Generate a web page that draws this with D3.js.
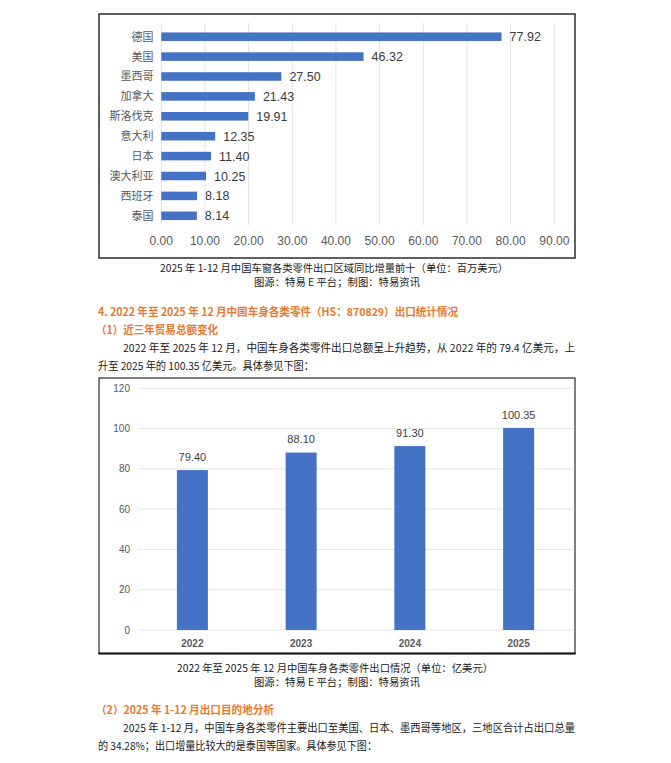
<!DOCTYPE html>
<html>
<head>
<meta charset="utf-8">
<script src="https://cdn.jsdelivr.net/npm/d3@7"></script>
<style>
  html, body { margin: 0; padding: 0; background: #fff; }
  svg { display: block; }
  text { font-family: "Liberation Sans", "Noto Sans CJK SC", sans-serif; }
  .cjk { font-family: "Noto Sans CJK SC", "Liberation Sans", sans-serif; }
</style>
</head>
<body>
<svg id="page" width="671" height="763"></svg>
<script>
// top chart: 2025 increments by destination (million USD)
var countries = ['德国', '美国', '墨西哥', '加拿大', '斯洛伐克', '意大利', '日本', '澳大利亚', '西班牙', '泰国'];
var increments = [77.92, 46.32, 27.50, 21.43, 19.91, 12.35, 11.40, 10.25, 8.18, 8.14];
var incrementTicks = [0, 10, 20, 30, 40, 50, 60, 70, 80, 90];

// bottom chart: yearly export totals (100M USD)
var years = ['2022', '2023', '2024', '2025'];
var totals = [79.40, 88.10, 91.30, 100.35];
var totalTicks = [0, 20, 40, 60, 80, 100, 120];

// page text, [text, x, y, width, style]
var textLines = [
  ['2025 年 1-12 月中国车窗各类零件出口区域同比增量前十（单位：百万美元）', 160, 268, 348, 'caption'],
  ['图源：特易 E 平台；制图：特易资讯', 254, 282, 166, 'caption'],
  ['4. 2022 年至 2025 年 12 月中国车身各类零件（HS：870829）出口统计情况', 98, 312, 360, 'heading'],
  ['（1）近三年贸易总额变化', 96, 330, 122, 'heading'],
  ['2022 年至 2025 年 12 月，中国车身各类零件出口总额呈上升趋势，从 2022 年的 79.4 亿美元，上', 123, 348, 452, 'body'],
  ['升至 2025 年的 100.35 亿美元。具体参见下图：', 98, 366, 216, 'body'],
  ['2022 年至 2025 年 12 月中国车身各类零件出口情况（单位：亿美元）', 177, 668, 316, 'caption'],
  ['图源：特易 E 平台；制图：特易资讯', 254, 682, 166, 'caption'],
  ['（2）2025 年 1-12 月出口目的地分析', 96, 710, 178, 'heading'],
  ['2025 年 1-12 月，中国车身各类零件主要出口至美国、日本、墨西哥等地区，三地区合计占出口总量', 123, 728, 452, 'body'],
  ['的 34.28%；出口增量比较大的是泰国等国家。具体参见下图：', 98, 746, 279, 'body']
];

var barColor = '#4472C4';
var svg = d3.select('#page');

svg.append('rect').attr('width', 671).attr('height', 763).attr('fill', '#fff');

function renderIncrements() {
  var root = svg.append('g').attr('class', 'increments');

  root.append('rect')
    .attr('x', 99).attr('y', 14)
    .attr('width', 476).attr('height', 244)
    .attr('fill', '#fff')
    .attr('stroke', '#2b2b2b')
    .attr('stroke-width', 1.5);

  var x = d3.scaleLinear().domain([0, 90]).range([161.3, 554.3]);
  var y = d3.scaleBand()
    .domain(countries)
    .range([26.75, 225.75])
    .paddingInner(0.57)
    .paddingOuter(0.285);

  root.selectAll('.grid')
    .data(incrementTicks)
    .enter()
    .append('line')
    .attr('class', 'grid')
    .attr('x1', x).attr('x2', x)
    .attr('y1', 23).attr('y2', 225)
    .attr('stroke', '#e3e3e3')
    .attr('stroke-width', 1);

  root.selectAll('.tick-label')
    .data(incrementTicks)
    .enter()
    .append('text')
    .attr('class', 'tick-label')
    .attr('x', x)
    .attr('y', 241)
    .attr('dy', '0.35em')
    .attr('text-anchor', 'middle')
    .attr('font-size', 12)
    .attr('fill', '#595959')
    .text(function(d) { return d3.format('.2f')(d); });

  root.selectAll('.bar')
    .data(increments)
    .enter()
    .append('rect')
    .attr('class', 'bar')
    .attr('x', x(0))
    .attr('y', function(d, i) { return y(countries[i]); })
    .attr('width', function(d) { return x(d) - x(0); })
    .attr('height', y.bandwidth())
    .attr('fill', barColor);

  root.selectAll('.cat-label')
    .data(countries)
    .enter()
    .append('text')
    .attr('class', 'cat-label cjk')
    .attr('x', 153.5)
    .attr('y', function(d) { return y(d) + y.bandwidth() / 2; })
    .attr('dy', '0.36em')
    .attr('text-anchor', 'end')
    .attr('font-size', 11)
    .attr('fill', '#595959')
    .text(function(d) { return d; });

  root.selectAll('.value-label')
    .data(increments)
    .enter()
    .append('text')
    .attr('class', 'value-label')
    .attr('x', function(d) { return x(d) + 8; })
    .attr('y', function(d, i) { return y(countries[i]) + y.bandwidth() / 2; })
    .attr('dy', '0.36em')
    .attr('font-size', 12.5)
    .attr('fill', '#3a3a3a')
    .text(function(d) { return d3.format('.2f')(d); });
}

function renderTotals() {
  var root = svg.append('g').attr('class', 'totals');

  root.append('rect')
    .attr('x', 99).attr('y', 378)
    .attr('width', 476).attr('height', 275.5)
    .attr('fill', '#fff')
    .attr('stroke', '#2b2b2b')
    .attr('stroke-width', 1.2);
  root.append('line')
    .attr('x1', 98.4).attr('x2', 575.6)
    .attr('y1', 653.5).attr('y2', 653.5)
    .attr('stroke', '#111')
    .attr('stroke-width', 2.2);

  var y = d3.scaleLinear().domain([0, 120]).range([630, 388.3]);
  var x = d3.scaleBand()
    .domain(years)
    .range([138, 573])
    .paddingInner(0.715)
    .paddingOuter(0.3575);

  root.selectAll('.grid')
    .data(totalTicks)
    .enter()
    .append('line')
    .attr('class', 'grid')
    .attr('x1', 138).attr('x2', 573)
    .attr('y1', y).attr('y2', y)
    .attr('stroke', '#e6e6e6')
    .attr('stroke-width', 1);

  root.selectAll('.tick-label')
    .data(totalTicks)
    .enter()
    .append('text')
    .attr('class', 'tick-label')
    .attr('x', 130)
    .attr('y', y)
    .attr('dy', '0.35em')
    .attr('text-anchor', 'end')
    .attr('font-size', 10)
    .attr('fill', '#595959')
    .text(function(d) { return d; });

  root.selectAll('.bar')
    .data(totals)
    .enter()
    .append('rect')
    .attr('class', 'bar')
    .attr('x', function(d, i) { return x(years[i]); })
    .attr('y', y)
    .attr('width', x.bandwidth())
    .attr('height', function(d) { return y(0) - y(d); })
    .attr('fill', barColor);

  root.selectAll('.value-label')
    .data(totals)
    .enter()
    .append('text')
    .attr('class', 'value-label')
    .attr('x', function(d, i) { return x(years[i]) + x.bandwidth() / 2; })
    .attr('y', function(d) { return y(d) - 13; })
    .attr('dy', '0.35em')
    .attr('text-anchor', 'middle')
    .attr('font-size', 11)
    .attr('fill', '#404040')
    .text(function(d) { return d3.format('.2f')(d); });

  root.selectAll('.year-label')
    .data(years)
    .enter()
    .append('text')
    .attr('class', 'year-label')
    .attr('x', function(d) { return x(d) + x.bandwidth() / 2; })
    .attr('y', 643)
    .attr('dy', '0.35em')
    .attr('text-anchor', 'middle')
    .attr('font-size', 10)
    .attr('font-weight', 'bold')
    .attr('fill', '#595959')
    .text(function(d) { return d; });
}

function renderText() {
  svg.selectAll('.page-text')
    .data(textLines)
    .enter()
    .append('text')
    .attr('class', 'page-text cjk')
    .attr('x', function(d) { return d[1]; })
    .attr('y', function(d) { return d[2]; })
    .attr('dy', '0.36em')
    .attr('textLength', function(d) { return d[3]; })
    .attr('lengthAdjust', 'spacingAndGlyphs')
    .attr('font-size', function(d) { return d[4] === 'caption' ? 10.5 : 11; })
    .attr('font-weight', function(d) { return d[4] === 'heading' ? 'bold' : 'normal'; })
    .attr('fill', function(d) { return d[4] === 'heading' ? '#E8792F' : '#1a1a1a'; })
    .text(function(d) { return d[0]; });
}

renderIncrements();
renderTotals();
renderText();
</script>
</body>
</html>
